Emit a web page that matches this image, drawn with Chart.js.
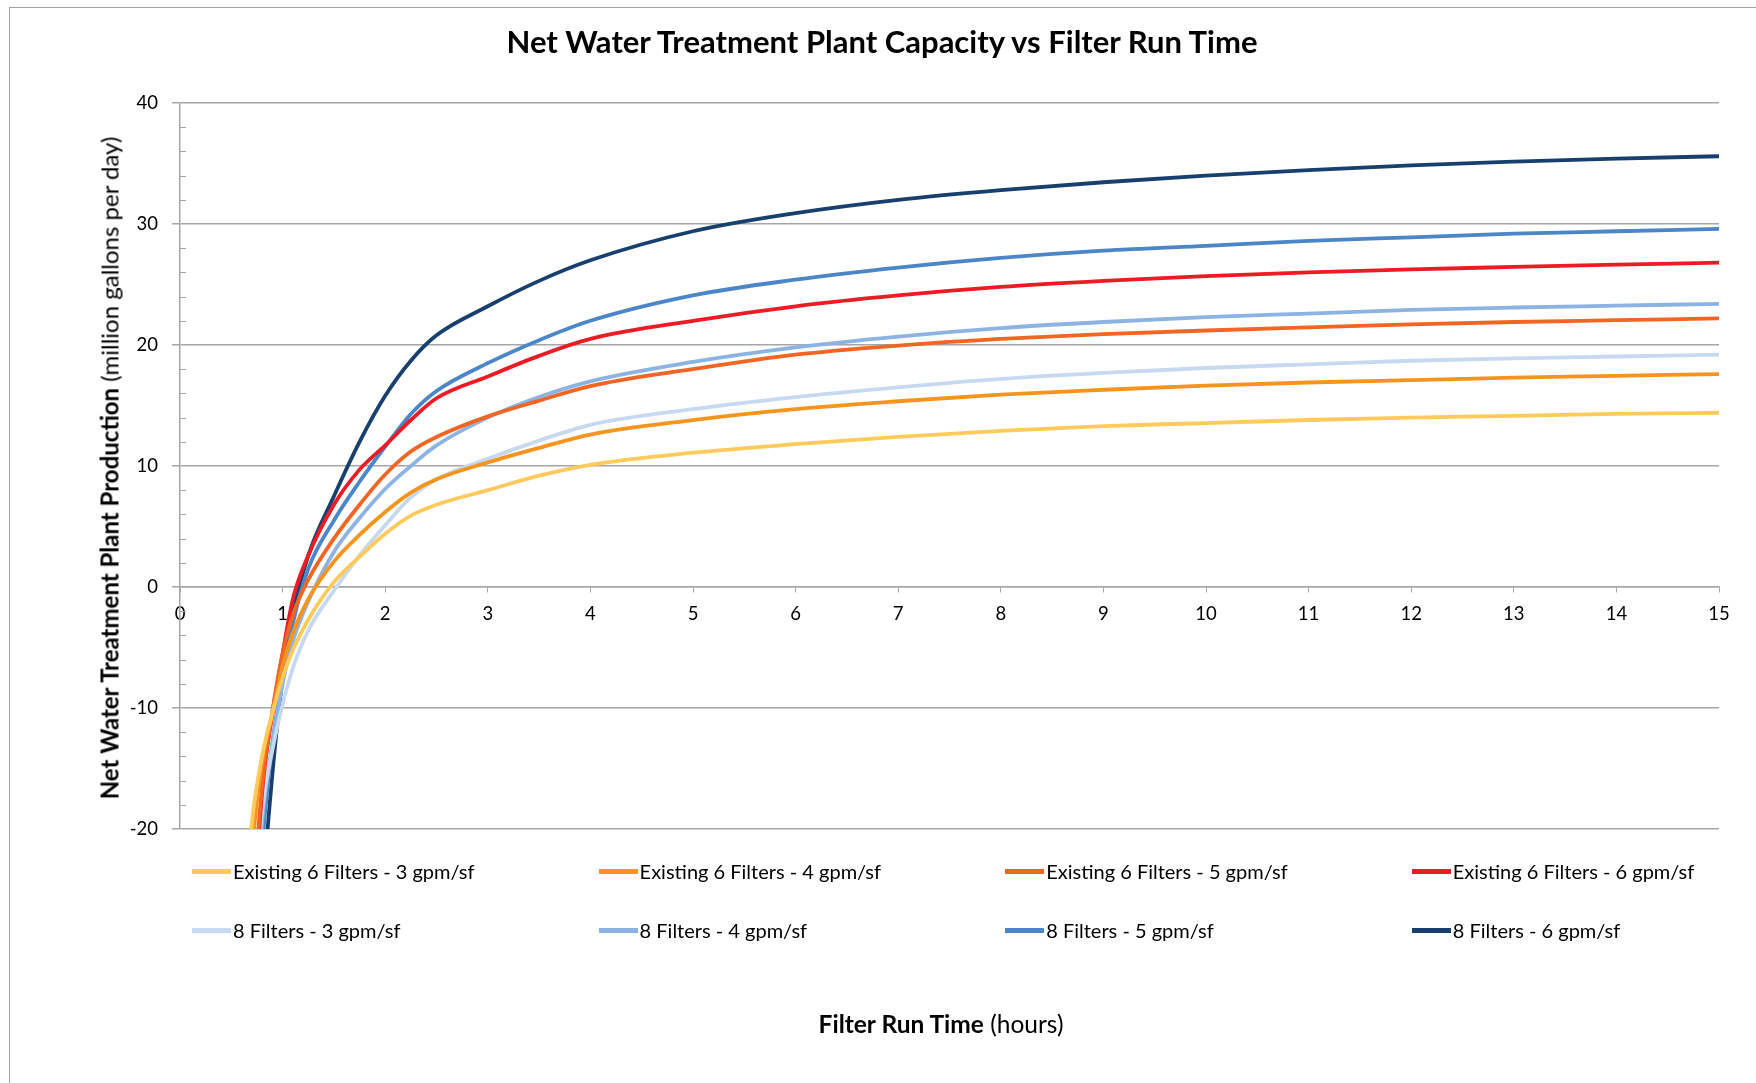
<!DOCTYPE html>
<html>
<head>
<meta charset="utf-8">
<script src="https://cdn.jsdelivr.net/npm/chart.js@4.4.1/dist/chart.umd.min.js"></script>
<style>
  html, body { margin: 0; padding: 0; background: #fff; }
  #wrap { position: relative; width: 1756px; height: 1083px; overflow: hidden; font-family: Lato, "Open Sans", sans-serif; color: #000; }
  #frame { position: absolute; left: 9px; top: 7px; width: 1800px; height: 1200px; border-left: 1.5px solid #a0a0a0; border-top: 1.5px solid #a0a0a0; }
  #chart { position: absolute; left: 0; top: 0; }
  #title { position: absolute; left: 0; top: 24px; width: 1764px; text-align: center; font-weight: bold; font-size: 31px; line-height: 34px; }
  #ytitle { position: absolute; left: 109px; top: 468px; transform: translate(-50%, -50%) rotate(-90deg); white-space: nowrap; font-size: 24px; }
  #xtitle { position: absolute; left: 941px; top: 1023px; transform: translate(-50%, -50%); white-space: nowrap; font-size: 24.5px; }
  .legend-item { position: absolute; display: flex; align-items: center; font-size: 20px; white-space: nowrap; }
  .legend-item span.swatch { display: inline-block; width: 39px; height: 5px; margin-right: 2px; }
</style>
</head>
<body>
<div id="wrap">
  <div id="frame"></div>
  <canvas id="chart" width="1756" height="1083"></canvas>
  <div id="title">Net Water Treatment Plant Capacity vs Filter Run Time</div>
  <div id="ytitle"><b>Net Water Treatment Plant Production</b> (million gallons per day)</div>
  <div id="xtitle"><b>Filter Run Time</b> (hours)</div>
  <div id="legend"></div>
</div>
<script>
// filter run time (hours)
const hours = [0.6, 0.7, 0.8, 0.9, 1, 1.1, 1.25, 1.5, 1.75, 2, 2.25, 2.5, 3, 3.5, 4, 5, 6, 7, 8, 9, 10, 11, 12, 13, 14, 15];

// net production (MGD)
const existing3 = [-30, -19.5, -14, -10.4, -7.5, -5.2, -2.7, 0.4, 2.5, 4.4, 5.9, 6.8, 8.0, 9.2, 10.1, 11.1, 11.8, 12.4, 12.9, 13.3, 13.55, 13.8, 14.0, 14.15, 14.3, 14.4];
const existing4 = [-35, -22, -14.5, -10.5, -6.5, -3.8, -1.0, 2.1, 4.3, 6.2, 7.8, 8.9, 10.3, 11.5, 12.6, 13.8, 14.7, 15.35, 15.9, 16.3, 16.65, 16.9, 17.1, 17.3, 17.45, 17.6];
const existing5 = [-45, -28, -16.5, -10.3, -5.5, -2.3, 0.6, 4.0, 6.8, 9.3, 11.2, 12.4, 14.1, 15.4, 16.6, 18.0, 19.2, 19.95, 20.5, 20.9, 21.2, 21.45, 21.7, 21.9, 22.05, 22.2];
const existing6 = [-48, -30, -17, -10.5, -5.5, -1, 2.6, 6.8, 9.7, 11.7, 13.8, 15.6, 17.4, 19.1, 20.5, 22.0, 23.2, 24.1, 24.8, 25.3, 25.7, 26.0, 26.25, 26.45, 26.65, 26.8];
const eight3 = [-48, -30, -18.5, -13.5, -9.7, -6.7, -3.6, -0.3, 2.6, 5.1, 7.4, 8.9, 10.6, 12.1, 13.4, 14.7, 15.7, 16.5, 17.2, 17.7, 18.1, 18.4, 18.7, 18.9, 19.05, 19.2];
const eight4 = [-52, -32, -19.5, -13, -8, -4.5, -1.2, 2.9, 5.7, 8.1, 10.0, 11.7, 14.0, 15.7, 17.0, 18.6, 19.8, 20.7, 21.4, 21.9, 22.3, 22.6, 22.9, 23.1, 23.25, 23.4];
const eight5 = [-58, -36, -21.5, -13, -7.5, -3, 1.5, 5.5, 8.7, 11.6, 14.3, 16.2, 18.5, 20.4, 22.0, 24.1, 25.4, 26.4, 27.2, 27.8, 28.2, 28.6, 28.9, 29.2, 29.4, 29.6];
const eight6 = [-65, -40, -26, -15.5, -7.5, -2.3, 2.6, 7.5, 12.0, 15.8, 18.7, 20.8, 23.2, 25.3, 27.0, 29.4, 30.9, 32.0, 32.8, 33.45, 34.0, 34.45, 34.85, 35.15, 35.4, 35.6];

const seriesNames = [
  'Existing 6 Filters - 3 gpm/sf', 'Existing 6 Filters - 4 gpm/sf', 'Existing 6 Filters - 5 gpm/sf', 'Existing 6 Filters - 6 gpm/sf',
  '8 Filters - 3 gpm/sf', '8 Filters - 4 gpm/sf', '8 Filters - 5 gpm/sf', '8 Filters - 6 gpm/sf'
];
const seriesValues = [existing3, existing4, existing5, existing6, eight3, eight4, eight5, eight6];
const seriesColors = ['#ffca5c', '#f7941e', '#f26522', '#ed1c24', '#c6d9f1', '#8db3e2', '#4a86c8', '#17406e'];

const yTicks = [-20, -10, 0, 10, 20, 30, 40];
const xTicks = [0, 1, 2, 3, 4, 5, 6, 7, 8, 9, 10, 11, 12, 13, 14, 15];

const gridGray = '#a6a6a6';

// small tick marks between the labelled y ticks
const minorTicks = {
  id: 'minorTicks',
  afterDraw(chart) {
    const ctx = chart.ctx;
    const y = chart.scales.y;
    const left = chart.chartArea.left;
    ctx.save();
    ctx.strokeStyle = gridGray;
    ctx.lineWidth = 1;
    for (let v = -20; v <= 40; v += 2) {
      if (v % 10 === 0) continue;
      const py = Math.round(y.getPixelForValue(v)) + 0.5;
      ctx.beginPath();
      ctx.moveTo(left, py);
      ctx.lineTo(left + 6, py);
      ctx.stroke();
    }
    ctx.restore();
  }
};

const ctx = document.getElementById('chart').getContext('2d');
const chart = new Chart(ctx, {
  type: 'line',
  data: {
    datasets: seriesNames.map((name, i) => ({
      label: name,
      data: hours.map((h, j) => ({ x: h, y: seriesValues[i][j] })),
      borderColor: seriesColors[i],
      backgroundColor: seriesColors[i],
      borderWidth: 3.8,
      pointRadius: 0,
      cubicInterpolationMode: 'monotone',
      fill: false
    }))
  },
  options: {
    responsive: false,
    animation: false,
    devicePixelRatio: 1,
    layout: { padding: { left: 120, top: 103, right: 37, bottom: 254 } },
    plugins: {
      legend: { display: false },
      tooltip: { enabled: false },
      title: { display: false }
    },
    scales: {
      x: {
        type: 'linear',
        position: { y: 0 },
        min: 0,
        max: 15,
        afterBuildTicks: (s) => { s.ticks = xTicks.map(v => ({ value: v })); },
        ticks: { color: '#000', font: { family: 'Lato', size: 18.5 }, padding: 11, maxRotation: 0 },
        grid: { drawOnChartArea: false, drawTicks: true, tickLength: 5, color: gridGray },
        border: { display: true, color: gridGray, width: 1.5 }
      },
      y: {
        min: -20,
        max: 40,
        afterBuildTicks: (s) => { s.ticks = yTicks.map(v => ({ value: v })); },
        afterFit: (s) => { s.width = 60; },
        ticks: { color: '#000', font: { family: 'Lato', size: 18.5 }, padding: 14 },
        grid: { color: gridGray, lineWidth: 1.5, tickLength: 8 },
        border: { display: true, color: gridGray, width: 1.5 }
      }
    }
  },
  plugins: [minorTicks]
});

// legend in a 4 x 2 grid, built from the datasets
const legend = document.getElementById('legend');
chart.data.datasets.forEach((ds, i) => {
  const item = document.createElement('div');
  item.className = 'legend-item';
  item.style.left = (192 + (i % 4) * 406.6) + 'px';
  item.style.top = (i < 4 ? 859 : 918) + 'px';
  const sw = document.createElement('span');
  sw.className = 'swatch';
  sw.style.background = ds.borderColor;
  const tx = document.createElement('span');
  tx.textContent = ds.label;
  item.appendChild(sw);
  item.appendChild(tx);
  legend.appendChild(item);
});
</script>
</body>
</html>
